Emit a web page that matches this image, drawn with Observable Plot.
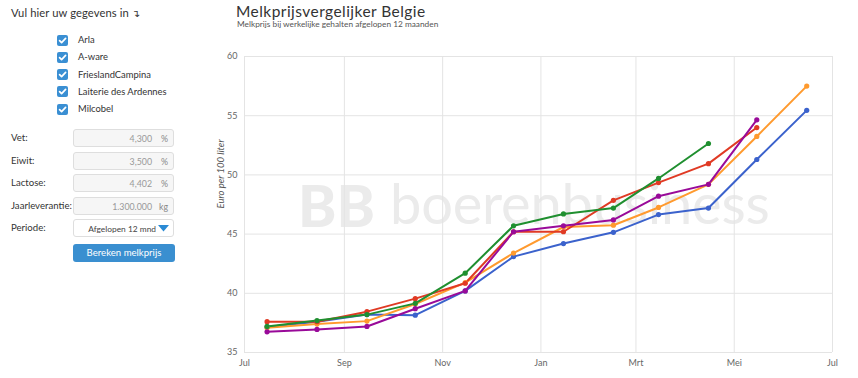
<!DOCTYPE html>
<html>
<head>
<meta charset="utf-8">
<script src="https://cdn.jsdelivr.net/npm/d3@7"></script>
<script src="https://cdn.jsdelivr.net/npm/@observablehq/plot@0.6"></script>
<style>
  html, body { margin: 0; padding: 0; background: #fff; }
  body { font-family: Lato, "Noto Sans", sans-serif; color: #333; }
  #page { position: relative; width: 858px; height: 378px; overflow: hidden; }
  .abs { position: absolute; white-space: nowrap; }
  .intro { left: 11px; top: 6px; font-size: 11.2px; color: #333; letter-spacing: 0.1px; }
  .cb { position: absolute; left: 57px; width: 11px; height: 11px; border-radius: 2px; background: #3a8fd3; }
  .cb svg { position: absolute; left: 0; top: 0; }
  .cblabel { position: absolute; left: 78px; font-size: 9.4px; color: #333; line-height: 12px; }
  .flabel { position: absolute; left: 11px; font-size: 9.6px; color: #333; line-height: 12px; }
  .box { position: absolute; left: 73px; width: 101px; height: 18px; box-sizing: border-box; border: 1px solid #dedede; border-radius: 3px; background: #f6f6f6; }
  .box .val { position: absolute; right: 21px; top: 3px; font-size: 8.8px; color: #999; line-height: 12px; }
  .box .unit { position: absolute; right: 5px; top: 3px; font-size: 8.8px; color: #888; line-height: 12px; }
  .btn { position: absolute; left: 73px; top: 244px; width: 102px; height: 18px; border-radius: 3px; background: #3a8fd0; color: #fff; font-size: 9.6px; text-align: center; line-height: 18px; }
  .title { left: 236px; top: 2px; font-size: 15.5px; color: #333; letter-spacing: 0.45px; }
  .subtitle { left: 237px; top: 19px; font-size: 8.3px; color: #555; }
  .wm { position: absolute; color: #ebebeb; line-height: 1; white-space: nowrap; }
  #chart { position: absolute; left: 200px; top: 30px; }
</style>
</head>
<body>
<div id="page">
  <div class="abs intro">Vul hier uw gegevens in <span style="font-family:'DejaVu Sans';font-size:10px">&#8628;</span></div>
  <div id="checks"></div>

  <div class="flabel" style="top:132px">Vet:</div>
  <div class="box" style="top:129px"><span class="val">4,300</span><span class="unit">%</span></div>
  <div class="flabel" style="top:155px">Eiwit:</div>
  <div class="box" style="top:152px"><span class="val">3,500</span><span class="unit">%</span></div>
  <div class="flabel" style="top:177px">Lactose:</div>
  <div class="box" style="top:174px"><span class="val">4,402</span><span class="unit">%</span></div>
  <div class="flabel" style="top:200px">Jaarleverantie:</div>
  <div class="box" style="top:197px"><span class="val">1.300.000</span><span class="unit">kg</span></div>
  <div class="flabel" style="top:222px">Periode:</div>
  <div class="box" style="top:219px;background:#fff"><span class="val" style="right:17px;color:#444;font-size:8.4px">Afgelopen 12 mnd</span>
    <svg style="position:absolute;right:4px;top:5px" width="11" height="7"><path d="M0,0 L11,0 L5.5,6.5 Z" fill="#2a8ad4"/></svg></div>
  <div class="btn">Bereken melkprijs</div>

  <div class="abs title">Melkprijsvergelijker Belgie</div>
  <div class="abs subtitle">Melkprijs bij werkelijke gehalten afgelopen 12 maanden</div>

  <div class="wm" style="left:298px;top:176px;font-size:58px;font-weight:900;">BB</div>
  <div class="wm" style="left:390px;top:175px;font-size:56px;font-weight:400;letter-spacing:-0.2px">boerenbusiness</div>

  <div id="chart"></div>
</div>
<script>
// ---- data ----
const zuivelaars = ["Arla", "A-ware", "FrieslandCampina", "Laiterie des Ardennes", "Milcobel"];
const kleuren = ["#3b62cc", "#ff9a2e", "#1f8f2f", "#e03a24", "#990a99"];
const maanden = ["2021-07-15", "2021-08-15", "2021-09-15", "2021-10-15", "2021-11-15", "2021-12-15",
                 "2022-01-15", "2022-02-15", "2022-03-15", "2022-04-15", "2022-05-15", "2022-06-15"];
const arla            = [37.15, 37.6, 38.2, 38.15, 40.2, 43.1, 44.2, 45.15, 46.65, 47.2, 51.3, 55.45];
const aware           = [37.1, 37.4, 37.65, 39.1, 40.9, 43.4, 45.6, 45.75, 47.25, 49.2, 53.25, 57.5];
const frieslandCampina= [37.2, 37.7, 38.2, 39.15, 41.7, 45.7, 46.7, 47.2, 49.7, 52.65, null, null];
const laiterie        = [37.6, 37.6, 38.45, 39.55, 40.85, 45.2, 45.2, 47.85, 49.35, 50.95, 54.0, null];
const milcobel        = [36.75, 36.95, 37.2, 38.7, 40.2, 45.2, 45.7, 46.2, 48.2, 49.2, 54.65, null];
const yTicks = [35, 40, 45, 50, 55, 60];
const maandNamen = ["Jan", "Feb", "Mrt", "Apr", "Mei", "Jun", "Jul", "Aug", "Sep", "Okt", "Nov", "Dec"];
const xDomein = ["2021-07-01", "2022-07-01"];
const yLabel = "Euro per 100 liter";

// ---- checkbox list ----
const checks = document.getElementById("checks");
zuivelaars.forEach((naam, i) => {
  const top = 34.5 + i * 17.3;
  const cb = document.createElement("div");
  cb.className = "cb";
  cb.style.top = top + "px";
  cb.innerHTML = '<svg width="11" height="11"><path d="M2.6,5.6 L4.6,7.6 L8.6,3.4" fill="none" stroke="#fff" stroke-width="1.7" stroke-linecap="round" stroke-linejoin="round"/></svg>';
  checks.appendChild(cb);
  const lb = document.createElement("div");
  lb.className = "cblabel";
  lb.style.top = (top - 0.5) + "px";
  lb.textContent = naam;
  checks.appendChild(lb);
});

// ---- chart ----
const reeksen = [arla, aware, frieslandCampina, laiterie, milcobel];
const drawOrder = [0, 1, 3, 2, 4];
const rows = [];
drawOrder.forEach(k => {
  reeksen[k].forEach((v, i) => {
    if (v != null) rows.push({naam: zuivelaars[k], datum: new Date(maanden[i]), prijs: v});
  });
});
const xDom = xDomein.map(d => new Date(d));
const xTicks = d3.utcMonth.every(2).range(xDom[0], d3.utcDay.offset(xDom[1], 1));

const chart = Plot.plot({
  width: 658,
  height: 348,
  marginLeft: 44,
  marginRight: 26,
  marginTop: 26,
  marginBottom: 26,
  style: {fontFamily: "Lato, 'Noto Sans', sans-serif", fontSize: "9px", color: "#666", background: "transparent", overflow: "visible"},
  x: {type: "utc", domain: xDom, ticks: xTicks, tickFormat: d => maandNamen[d.getUTCMonth()], tickSize: 0, tickPadding: 7, label: null},
  y: {domain: [35, 60], ticks: yTicks, tickSize: 0, tickPadding: 7, label: null},
  color: {domain: zuivelaars, range: kleuren},
  marks: [
    Plot.ruleY(yTicks, {stroke: "#e4e4e4", strokeWidth: 1}),
    Plot.ruleX(xTicks, {stroke: "#e4e4e4", strokeWidth: 1}),
    Plot.line(rows, {x: "datum", y: "prijs", z: "naam", stroke: "naam", strokeWidth: 2, curve: "linear"}),
    Plot.dot(rows, {x: "datum", y: "prijs", fill: "naam", r: 2.6}),
    Plot.text([yLabel], {frameAnchor: "left", rotate: -90, dx: -24, dy: 4, fontStyle: "italic", fontSize: 9.5, fill: "#555"})
  ]
});
document.getElementById("chart").appendChild(chart);
</script>
</body>
</html>
